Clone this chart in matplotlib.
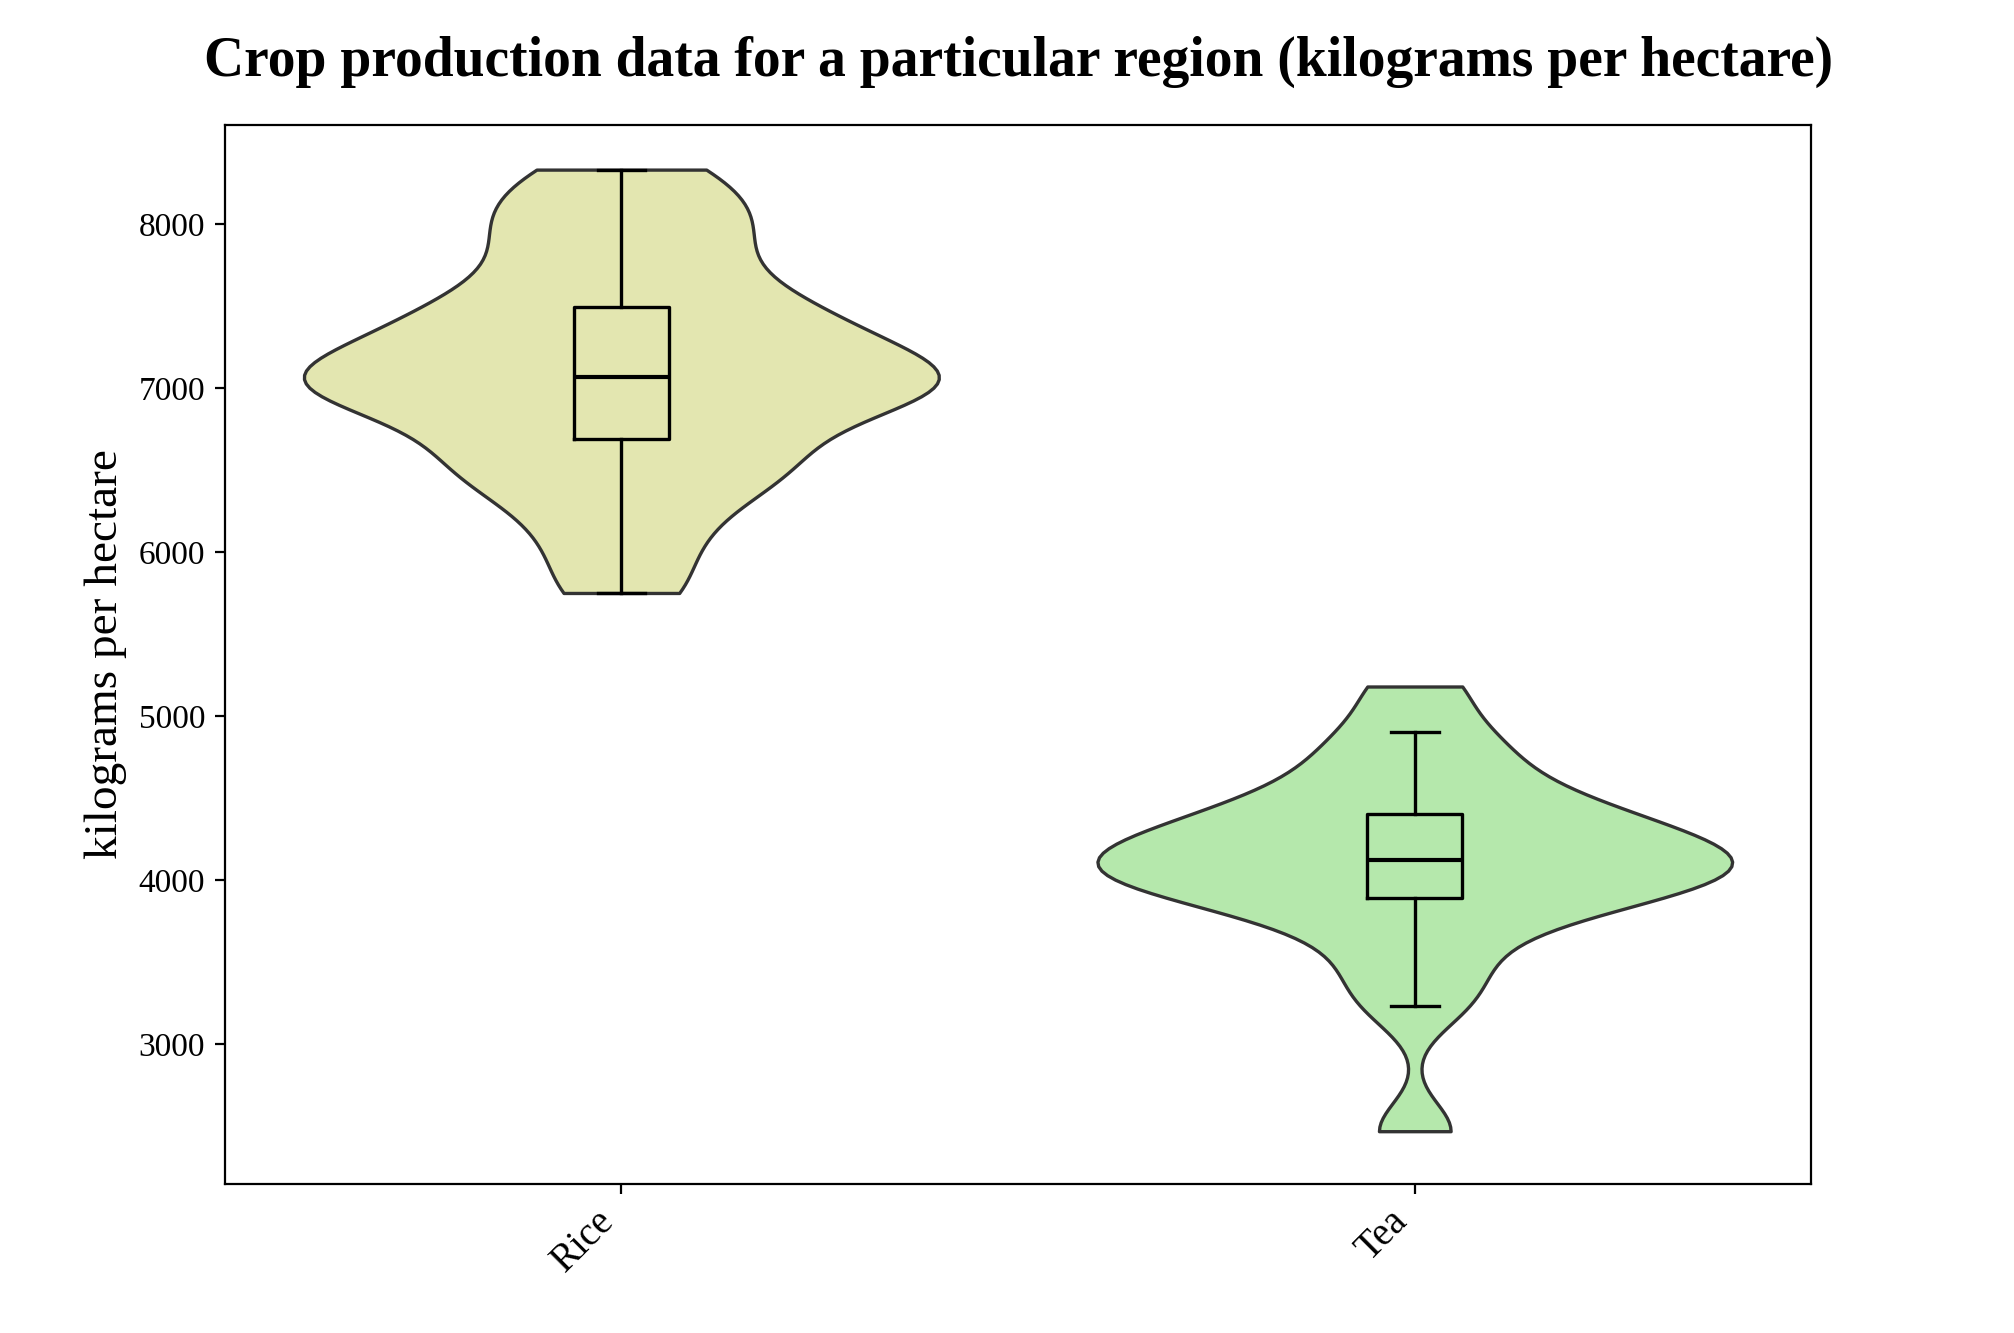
import matplotlib
matplotlib.use("Agg")
import matplotlib.pyplot as plt
import numpy as np

plt.rcParams['font.family'] = ['Liberation Serif', 'DejaVu Serif']

categories = ["Rice", "Tea"]
rice = [5750, 6050, 6300, 6450, 6550, 6650, 6800, 6900, 6980, 7020, 7050, 7080,
        7150, 7250, 7350, 7410, 7520, 7650, 7850, 8000, 8150, 8330]
tea = [2470, 3230, 3450, 3650, 3800, 3880, 3920, 3980, 4020, 4060, 4100, 4150,
       4180, 4220, 4280, 4350, 4420, 4470, 4600, 4750, 4900, 5180]
data = [rice, tea]
colors = ["#e3e6b0", "#b5e8ac"]

fig, ax = plt.subplots(figsize=(10.075, 6.665), dpi=200)
pos = np.arange(len(categories))
vp = ax.violinplot(data, positions=pos, widths=0.8, showextrema=False, bw_method=0.3)
for body, c in zip(vp['bodies'], colors):
    body.set_facecolor(c)
    body.set_edgecolor('#333333')
    body.set_linewidth(1.2)
    body.set_alpha(1)
ax.boxplot(data, positions=pos, widths=0.12, showfliers=False,
           medianprops=dict(color='black', linewidth=1.5),
           boxprops=dict(color='black', linewidth=1.2),
           whiskerprops=dict(color='black', linewidth=1.2),
           capprops=dict(color='black', linewidth=1.2))
ax.set_xlim(-0.5, 1.5)
ax.set_ylim(2150, 8600)
ax.set_xticks(pos)
ax.set_xticklabels(categories, rotation=45, ha='right', fontsize=14)
ax.tick_params(axis='y', labelsize=12)
ax.set_ylabel("kilograms per hectare", fontsize=17)
ax.set_title("Crop production data for a particular region (kilograms per hectare)",
             fontsize=20, fontweight='bold', pad=18)
fig.subplots_adjust(left=0.1115, right=0.899, top=0.906, bottom=0.112)
fig.savefig("out.png", dpi=200)
